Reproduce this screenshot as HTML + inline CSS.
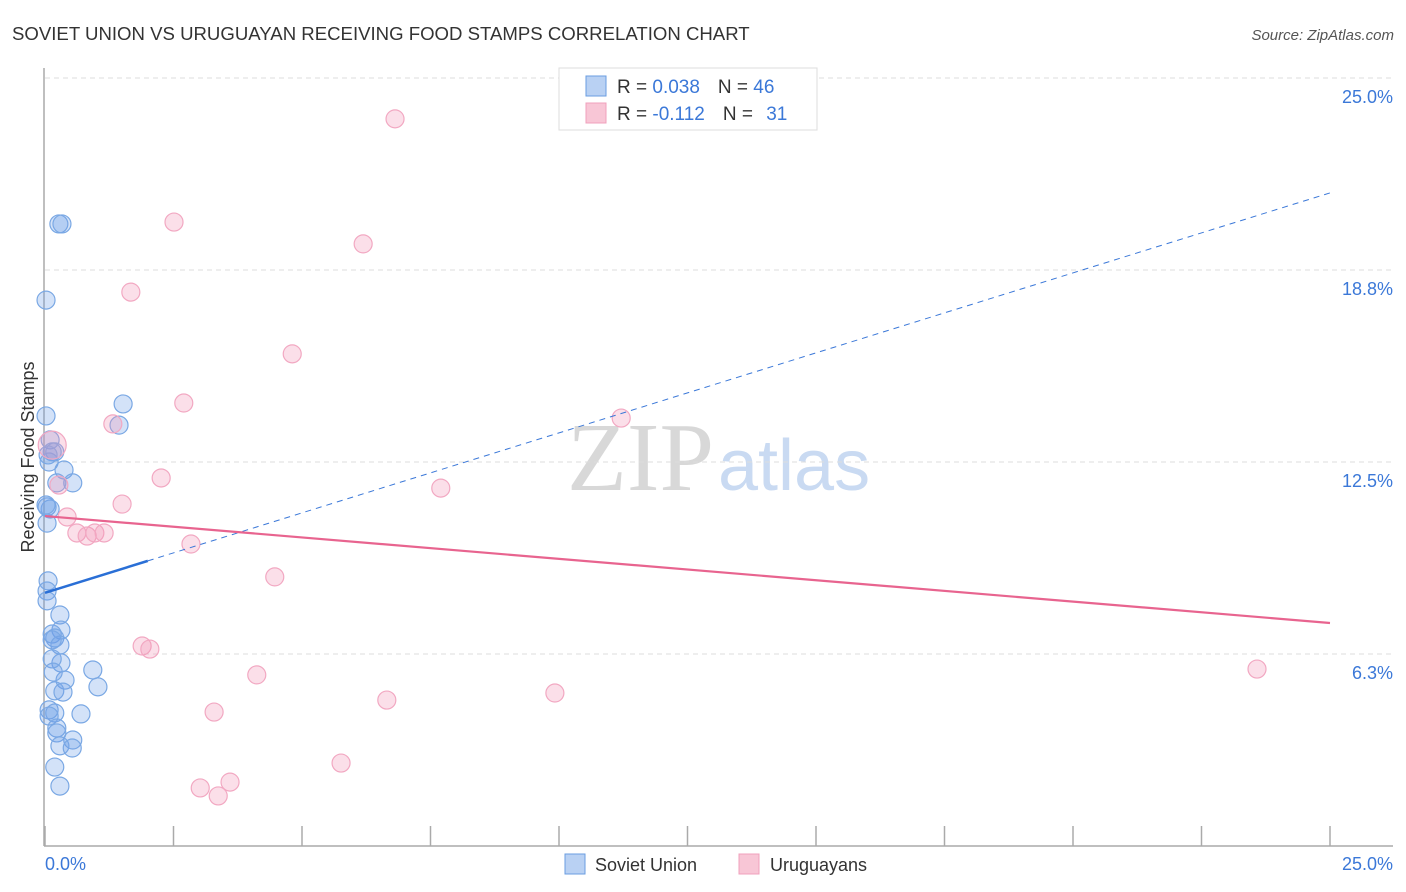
<!DOCTYPE html>
<html><head><meta charset="utf-8"><style>
body{margin:0;background:#fff;font-family:"Liberation Sans",sans-serif;}
svg{display:block}
</style></head><body>
<svg width="1406" height="892">
<text x="12" y="40" font-size="18.6" fill="#333">SOVIET UNION VS URUGUAYAN RECEIVING FOOD STAMPS CORRELATION CHART</text>
<text x="1394" y="40" font-size="15" fill="#555" text-anchor="end" font-style="italic">Source: ZipAtlas.com</text>
<text x="714" y="490" font-size="98" fill="#d8d8d8" text-anchor="end" font-family="Liberation Serif">ZIP</text>
<text x="718" y="490" font-size="72" fill="#c9daf2">atlas</text>
<g id="grid"></g>
<line x1="44" y1="68" x2="44" y2="846" stroke="#aaa" stroke-width="1.5"/>
<line x1="44" y1="846" x2="1393" y2="846" stroke="#aaa" stroke-width="1.5"/>
<g id="xticks"></g>
<text x="45" y="870" font-size="18" fill="#3b78d8">0.0%</text>
<text x="1393" y="870" font-size="18" fill="#3b78d8" text-anchor="end">25.0%</text>
<text x="34" y="457" font-size="18" fill="#333" text-anchor="middle" transform="rotate(-90 34 457)">Receiving Food Stamps</text>
<g id="pts"></g>
<g id="lines"></g>
<g>
<rect x="559" y="68" width="258" height="62" fill="#fff" stroke="#ddd"/>
<rect x="586" y="76" width="20" height="20" fill="#b9d1f3" stroke="#6a9de0"/>
<rect x="586" y="103" width="20" height="20" fill="#f8c6d6" stroke="#f0a0bc"/>
<text x="617" y="93" font-size="19" fill="#333">R = <tspan fill="#3b78d8">0.038</tspan><tspan dx="18">N = </tspan><tspan fill="#3b78d8">46</tspan></text>
<text x="617" y="120" font-size="19" fill="#333">R = <tspan fill="#3b78d8">-0.112</tspan><tspan dx="18">N = </tspan><tspan fill="#3b78d8" dx="8">31</tspan></text>
</g>
<g>
<rect x="565" y="854" width="20" height="20" fill="#b9d1f3" stroke="#6a9de0"/>
<text x="595" y="871" font-size="18" fill="#333">Soviet Union</text>
<rect x="739" y="854" width="20" height="20" fill="#f8c6d6" stroke="#f0a0bc"/>
<text x="770" y="871" font-size="18" fill="#333">Uruguayans</text>
</g>
</svg>
<script>
const yTicks=[6.25,12.5,18.75,25];
const yTickLabels=["6.3%","12.5%","18.8%","25.0%"];
const xTicks=[0,2.5,5,7.5,10,12.5,15,17.5,20,22.5,25];
const sovietX=[0.27,0.33,0.02,1.52,1.44,0.02,0.10,0.19,0.08,0.37,0.54,0.23,0.04,0.10,0.04,0.06,0.04,0.04,0.29,0.31,0.14,0.19,0.29,0.31,0.14,0.93,0.39,1.03,0.19,0.35,0.08,0.19,0.08,0.70,0.23,0.23,0.54,0.29,0.53,0.19,0.29,0.02,0.16,0.14,0.06,0.14];
const sovietY=[20.25,20.25,17.77,14.39,13.70,14.00,13.22,12.83,12.50,12.24,11.82,11.82,11.04,10.97,10.51,8.63,8.30,7.98,7.52,7.03,6.90,6.77,6.54,5.96,6.09,5.73,5.40,5.18,5.05,5.01,4.43,4.33,4.23,4.30,3.84,3.68,3.45,3.26,3.19,2.57,1.95,11.10,5.66,12.83,12.73,6.71];
const urugX=[6.81,2.51,6.19,1.67,4.81,2.70,1.32,11.21,0.14,0.27,2.26,7.70,1.50,0.43,0.62,0.82,0.97,1.15,2.84,4.47,1.89,2.04,4.12,3.29,6.65,9.92,23.58,5.76,3.60,3.02,3.37];
const urugY=[23.67,20.31,19.60,18.03,16.02,14.42,13.74,13.93,13.05,11.75,11.98,11.65,11.13,10.71,10.19,10.09,10.19,10.19,9.83,8.76,6.51,6.41,5.57,4.36,4.75,4.98,5.76,2.70,2.08,1.89,1.63];
const sovietTrend=[8.24,21.26];
const urugTrend=[10.74,7.26];
const sovietSolidEnd=2.0;
const NS="http://www.w3.org/2000/svg";
const X=v=>45+v/25*1285, Y=v=>846-v/25*768;
function mk(t,a,p){const e=document.createElementNS(NS,t);for(const k in a)e.setAttribute(k,a[k]);document.getElementById(p).appendChild(e);return e;}
yTicks.forEach((t,i)=>{
 const g=mk('line',{x1:45,x2:1393,y1:Y(t),y2:Y(t),stroke:'#ddd','stroke-dasharray':'5,4'},'grid');
 
 
 const l=mk('text',{x:1393,y:Y(t)+25,'font-size':18,fill:'#3b78d8','text-anchor':'end'},'grid');
 l.textContent=yTickLabels[i];
 
 
});
xTicks.forEach(t=>{
 const e=mk('line',{x1:X(t),x2:X(t),y1:826,y2:846,stroke:'#aaa','stroke-width':1.5},'xticks');
 
 
});
sovietX.forEach((x,i)=>{
 const c=mk('circle',{cx:X(x),cy:Y(sovietY[i]),r:9,fill:'rgba(110,160,232,0.3)',stroke:'#7aa8e4','stroke-width':1.2},'pts');
 
 
});
urugX.forEach((x,i)=>{
 const c=mk('circle',{cx:X(x),cy:Y(urugY[i]),r:(i==8?14:9),fill:'rgba(242,150,182,0.3)',stroke:'#f2a8c2','stroke-width':1.2},'pts');
 
 
});
const sy=x=>sovietTrend[0]+(sovietTrend[1]-sovietTrend[0])*x/25;
let e=mk('line',{x1:X(sovietSolidEnd),y1:Y(sy(sovietSolidEnd)),x2:X(25),y2:Y(sovietTrend[1]),stroke:'#3b78d8','stroke-width':1,'stroke-dasharray':'6,5'},'lines');


e=mk('line',{x1:X(0),y1:Y(sovietTrend[0]),x2:X(sovietSolidEnd),y2:Y(sy(sovietSolidEnd)),stroke:'#2a6fd6','stroke-width':2.5},'lines');


e=mk('line',{x1:X(0),y1:Y(urugTrend[0]),x2:X(25),y2:Y(urugTrend[1]),stroke:'#e8648f','stroke-width':2.2},'lines');


</script>
</body></html>
